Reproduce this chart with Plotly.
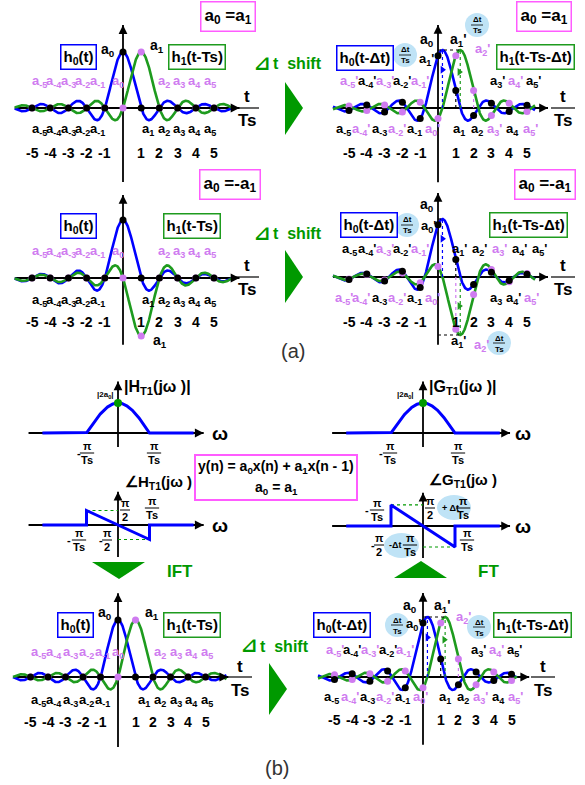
import numpy as np
import plotly.graph_objects as go

W, H = 585, 785
FONT = "Liberation Sans, Arial, sans-serif"
BLUE = "#0000FF"
GREEN = "#1E9B1E"
PINK = "#CF7BF0"
MAG = "#FF5CFF"
LBLUE = "#BFE3F6"
DGREEN = "#009900"
K = "black"

# ---------------- data ----------------
n_samples = [-5, -4, -3, -2, -1, 0, 1, 2, 3, 4, 5]
n_neg = [-5, -4, -3, -2, -1]
n_pos = [1, 2, 3, 4, 5]
num_neg_labels = ["-5", "-4", "-3", "-2", "-1"]
num_pos_labels = ["1", "2", "3", "4", "5"]
dt_over_Ts = 0.25                      # time shift Δt/Ts
h1_sign_case = [1, -1]                 # a0 = a1  /  a0 = -a1
case_text = ["a<sub>0</sub> =a<sub>1</sub>", "a<sub>0</sub> =-a<sub>1</sub>"]
neg_a = ["a<sub>-5</sub>", "a<sub>-4</sub>", "a<sub>-3</sub>", "a<sub>-2</sub>", "a<sub>-1</sub>"]
pos_a = ["a<sub>1</sub>", "a<sub>2</sub>", "a<sub>3</sub>", "a<sub>4</sub>", "a<sub>5</sub>"]
a0_lab = "a<sub>0</sub>"
mag_peak = 1.0                         # |2 a0|
mag_extent = 2.4                       # in units of π/Ts
phase_w = [-2.4, -1, -1, 1, 1, 2.4]    # ω in units of π/Ts
phase_H = [0, 0, 1, -1, 0, 0]          # in units of π/2
phase_G = [0, 0, 1.45, -1.45, 0, 0]    # π/2 + Δt·π/Ts

fig = go.Figure()
ann, shapes, axes, panels = [], [], {}, {}
ROW = 13


def add_panel(key, idx, ox, oy, sx, sy, box):
    x0, y0, x1, y1 = box
    s = "" if idx == 1 else str(idx)
    axes["xaxis" + s] = dict(domain=[x0 / W, x1 / W], range=[(x0 - ox) / sx, (x1 - ox) / sx],
                             visible=False, fixedrange=True, anchor="y" + s)
    axes["yaxis" + s] = dict(domain=[1 - y1 / H, 1 - y0 / H], range=[(oy - y1) / sy, (oy - y0) / sy],
                             visible=False, fixedrange=True, anchor="x" + s)
    panels[key] = ("x" + s, "y" + s)


def txt(x, y, s, size=13, color=K, bold=True, xanchor="center", xref="paper", border=None, pad=1, bw=1.5,
        family=FONT):
    a = dict(x=(x / W if xref == "paper" else x), y=1 - y / H, xref=xref, yref="paper",
             text=f"<b>{s}</b>" if bold else s, showarrow=False,
             font=dict(family=family, size=size, color=color), xanchor=xanchor, yanchor="middle")
    if border:
        a.update(bordercolor=border, borderwidth=bw, borderpad=pad, bgcolor="white")
    ann.append(a)


def pline(x0, y0, x1, y1, color=K, width=1, dash=None):
    shapes.append(dict(type="line", xref="paper", yref="paper", x0=x0 / W, x1=x1 / W,
                       y0=1 - y0 / H, y1=1 - y1 / H, line=dict(color=color, width=width, dash=dash)))


def tri(pts, color=DGREEN):
    p = "M " + " L ".join(f"{x / W},{1 - y / H}" for x, y in pts) + " Z"
    shapes.append(dict(type="path", xref="paper", yref="paper", path=p, fillcolor=color, line=dict(width=0)))


def ellipse(x0, y0, x1, y1, color=LBLUE):
    shapes.append(dict(type="circle", xref="paper", yref="paper", x0=x0 / W, x1=x1 / W,
                       y0=1 - y1 / H, y1=1 - y0 / H, fillcolor=color, line=dict(width=0), layer="below"))


def frac(cx, cy, top, bot, size=11, w=None):
    txt(cx, cy - 7, top, size)
    txt(cx, cy + 7, bot, size)
    w = w or size * 1.3
    pline(cx - w / 2, cy, cx + w / 2, cy, width=1)


def dt_circle(cx, cy, r=12):
    ellipse(cx - r, cy - r, cx + r, cy + r)
    txt(cx, cy - 5, "Δt", 8)
    txt(cx, cy + 6, "Ts", 8)
    pline(cx - 6, cy, cx + 6, cy, width=0.8)


def t_over_Ts(x, yl):
    txt(x, yl - 11, "t", 17)
    txt(x, yl + 13, "Ts", 17)
    pline(x - 12, yl, x + 12, yl, width=1.2)


def shift_text(cx, cy):
    txt(cx - 26, cy, "⊿", 20, color=DGREEN, family="DejaVu Sans")
    txt(cx + 9, cy + 1, "t  shift", 16, color=DGREEN)


def axes_lines(key, xa, ya):
    xr, yr = panels[key]
    fig.add_trace(go.Scatter(x=[xa[0], xa[1]], y=[0, 0], mode="lines", line=dict(color=K, width=1.8),
                             xaxis=xr, yaxis=yr, hoverinfo="skip"))
    fig.add_trace(go.Scatter(x=[0, 0], y=[ya[0], ya[1]], mode="lines", line=dict(color=K, width=1.8),
                             xaxis=xr, yaxis=yr, hoverinfo="skip"))
    for (x, y, ax, ay) in [(xa[1], 0, -9, 0), (0, ya[1], 0, 9)]:
        ann.append(dict(x=x, y=y, xref=xr, yref=yr, ax=ax, ay=ay, text="", showarrow=True,
                        arrowhead=2, arrowsize=1.1, arrowwidth=1.6, arrowcolor=K))


def time_panel(key, shift, sign, trange, xa, ya):
    xr, yr = panels[key]
    axes_lines(key, xa, ya)
    t = np.linspace(trange[0], trange[1], 700)
    fig.add_trace(go.Scatter(x=t, y=np.sinc(t - shift), mode="lines", line=dict(color=BLUE, width=2.6),
                             xaxis=xr, yaxis=yr, hoverinfo="skip"))
    fig.add_trace(go.Scatter(x=t, y=sign * np.sinc(t - 1 - shift), mode="lines",
                             line=dict(color=GREEN, width=2.6), xaxis=xr, yaxis=yr, hoverinfo="skip"))


def dots(key, shift, sign):
    xr, yr = panels[key]
    n = np.array(n_samples, dtype=float)
    fig.add_trace(go.Scatter(x=n, y=sign * np.sinc(n - 1 - shift), mode="markers",
                             marker=dict(color=PINK, size=7), xaxis=xr, yaxis=yr, hoverinfo="skip"))
    fig.add_trace(go.Scatter(x=n, y=np.sinc(n - shift), mode="markers",
                             marker=dict(color=K, size=7), xaxis=xr, yaxis=yr, hoverinfo="skip"))


def dotted(key, xs, ys, color):
    xr, yr = panels[key]
    fig.add_trace(go.Scatter(x=xs, y=ys, mode="lines", line=dict(color=color, width=1.2, dash="dot"),
                             xaxis=xr, yaxis=yr, hoverinfo="skip"))


def marker(key, x, y, color):
    xr, yr = panels[key]
    fig.add_trace(go.Scatter(x=[x], y=[y], mode="markers", marker=dict(color=color, size=7, symbol="triangle-right"),
                             xaxis=xr, yaxis=yr, hoverinfo="skip"))


def label_row(key, labels, colors, tpos, ypx, size=ROW):
    xr, _ = panels[key]
    for lab, c, t in zip(labels, colors, tpos):
        txt(t, ypx, lab, size, color=c, xref=xr)


def numbers(key, ypx, size=14):
    xr, _ = panels[key]
    for n, s in zip(n_neg + n_pos, num_neg_labels + num_pos_labels):
        txt(n, ypx, s, size, xref=xr)


# ---------------- panels ----------------
add_panel("P1", 1, 123, 108, 18.2, 56, (5, 15, 252, 185))
add_panel("P2", 2, 123, 278, 18.2, 58, (5, 185, 252, 350))
add_panel("P3", 3, 438, 108, 17.8, 58, (305, 15, 582, 185))
add_panel("P4", 4, 438, 277, 17.8, 58, (305, 185, 582, 352))
add_panel("P5", 5, 118, 677, 17.5, 57, (5, 585, 250, 752))
add_panel("P6", 6, 423, 677, 17.7, 60, (300, 585, 582, 752))
add_panel("M1", 7, 118, 433, 31.5, 30, (20, 375, 215, 452))
add_panel("M2", 8, 118, 525, 31.5, 14.5, (20, 485, 215, 562))
add_panel("M3", 9, 423, 433, 32, 30, (325, 375, 520, 452))
add_panel("M4", 10, 423, 526, 32, 14.5, (325, 485, 520, 562))

dt = dt_over_Ts
s_a, s_b = h1_sign_case

# (a) top-left / mid-left, (b) bottom-left : unshifted
time_panel("P1", 0, s_a, (-5.95, 6.0), (-5.95, 6.4), (-1.32, 1.48))
dots("P1", 0, s_a)
time_panel("P2", 0, s_b, (-5.95, 6.0), (-5.95, 6.4), (-1.15, 1.43))
dots("P2", 0, s_b)
time_panel("P5", 0, s_a, (-6.0, 6.2), (-6.0, 6.3), (-1.23, 1.47))
dots("P5", 0, s_a)

# shifted panels
for key, sign, tr, xa, ya in [("P3", s_a, (-5.9, 5.45), (-5.9, 6.18), (-1.28, 1.43)),
                              ("P4", s_b, (-5.9, 5.45), (-5.9, 6.18), (-1.17, 1.45)),
                              ("P6", s_a, (-5.93, 5.3), (-5.93, 6.0), (-1.13, 1.4))]:
    time_panel(key, dt, sign, tr, xa, ya)
    dotted(key, [dt, dt], [0, 1], BLUE)
    dotted(key, [1 + dt, 1 + dt], [0, sign], GREEN)
    dotted(key, [0, 1 + dt] if sign > 0 else [0, dt], [1, 1], K)
    if sign < 0:
        dotted(key, [0, 1 + dt], [-1, -1], K)
    dotted(key, [1, 1], [0, float(np.sinc(1 - dt))], K)
    dotted(key, [1, 1] if sign < 0 else [2, 2], [0, sign * float(np.sinc((1 if sign < 0 else 2) - 1 - dt))], PINK)
    marker(key, dt, 0.66, BLUE)
    marker(key, 1 + dt - 0.05, 0.62 * sign if sign > 0 else -0.5, GREEN)
    dots(key, dt, sign)

# frequency panels
for key, ph in [("M1", None), ("M3", None), ("M2", phase_H), ("M4", phase_G)]:
    xr, yr = panels[key]
    if key in ("M1", "M3"):
        axes_lines(key, (-2.84, 2.72), (-0.47, 1.72))
        w = np.linspace(-1, 1, 200)
        wx = np.concatenate([[-mag_extent], w, [mag_extent]])
        wy = np.concatenate([[0], mag_peak * np.cos(np.pi * w / 2), [0]])
        fig.add_trace(go.Scatter(x=wx, y=wy, mode="lines", line=dict(color=BLUE, width=3),
                                 xaxis=xr, yaxis=yr, hoverinfo="skip"))
        fig.add_trace(go.Scatter(x=[0], y=[mag_peak], mode="markers", marker=dict(color=DGREEN, size=8),
                                 xaxis=xr, yaxis=yr, hoverinfo="skip"))
    else:
        axes_lines(key, (-2.84, 2.72), (-2.2, 2.3))
        dotted(key, [phase_w[2], 0], [ph[2], ph[2]], DGREEN)
        dotted(key, [0, phase_w[3]], [ph[3], ph[3]], DGREEN)
        fig.add_trace(go.Scatter(x=phase_w, y=ph, mode="lines", line=dict(color=BLUE, width=3),
                                 xaxis=xr, yaxis=yr, hoverinfo="skip"))

# ---------------- texts: panel P1 ----------------
txt(228, 17, case_text[0], 17, border=MAG, pad=3)
txt(78, 57, "h<sub>0</sub>(t)", 15, border=BLUE, pad=2)
txt(197, 57, "h<sub>1</sub>(t-Ts)", 15, border=GREEN, pad=2)
txt(108, 50, a0_lab, 14)
txt(157, 46, "a<sub>1</sub>", 14)
left_u = [0.8 * n - 0.6 for n in n_neg]
right_u = [0.85 * n + 0.55 for n in n_pos]
label_row("P1", neg_a + [a0_lab], [PINK] * 6, left_u + [-0.3], 82)
label_row("P1", pos_a[1:], [PINK] * 4, right_u[1:], 82)
label_row("P1", neg_a, [K] * 5, left_u, 130)
label_row("P1", pos_a, [K] * 5, right_u, 130)
numbers("P1", 153)
t_over_Ts(247, 108)
shift_text(288, 63)
tri([(285, 82), (285, 135), (303, 108)])

# ---------------- P2 ----------------
txt(230, 185, case_text[1], 17, border=MAG, pad=3)
txt(78, 226, "h<sub>0</sub>(t)", 15, border=BLUE, pad=2)
txt(192, 226, "h<sub>1</sub>(t-Ts)", 15, border=GREEN, pad=2)
label_row("P2", neg_a + [a0_lab], [PINK] * 6, left_u + [-0.3], 252)
label_row("P2", pos_a[1:], [PINK] * 4, right_u[1:], 252)
label_row("P2", neg_a, [K] * 5, left_u, 300)
label_row("P2", pos_a, [K] * 5, right_u, 300)
numbers("P2", 322)
txt(160, 341, "a<sub>1</sub>", 14)
t_over_Ts(247, 277)
shift_text(288, 233)
tri([(285, 250), (285, 303), (303, 277)])

# ---------------- P5 ----------------
txt(75, 625, "h<sub>0</sub>(t)", 15, border=BLUE, pad=2)
txt(192, 625, "h<sub>1</sub>(t-Ts)", 15, border=GREEN, pad=2)
txt(105, 613, a0_lab, 14)
txt(152, 613, "a<sub>1</sub>", 14)
left_b = [0.91 * n for n in n_neg]
right_b = [0.9 * n + 0.6 for n in n_pos]
label_row("P5", neg_a + [a0_lab], [PINK] * 6, left_b + [0.0], 652)
label_row("P5", pos_a[1:], [PINK] * 4, right_b[1:], 652)
label_row("P5", neg_a, [K] * 5, left_b, 700)
label_row("P5", pos_a, [K] * 5, right_b, 700)
numbers("P5", 722)
t_over_Ts(240, 677)
shift_text(275, 645)
tri([(269, 663), (269, 715), (287, 689)])

# ---------------- shifted panels labels ----------------
pr = "'"
neg_p = [s + pr for s in neg_a]
pos_p = [s + pr for s in pos_a]
a0_p = a0_lab + pr

# P3
txt(544, 17, case_text[0], 17, border=MAG, pad=3)
txt(365, 58, "h<sub>0</sub>(t-Δt)", 15, border=BLUE, pad=2)
txt(535, 57, "h<sub>1</sub>(t-Ts-Δt)", 15, border=GREEN, pad=2)
txt(427, 40, a0_lab, 14)
dt_circle(405, 55)
txt(426, 60, "a<sub>1</sub>'", 13)
txt(458, 40, "a<sub>1</sub>'", 14)
dt_circle(477, 25)
txt(482, 50, "a<sub>2</sub>'", 13, color=PINK)
label_row("P3", neg_p, [PINK, K, PINK, K, PINK], [float(n) for n in n_neg], 82)
label_row("P3", pos_p[2:], [K, PINK, K], [n + 0.35 for n in n_pos[2:]], 82)
label_row("P3", [neg_a[0], neg_p[1], neg_a[2], neg_p[3], neg_a[4], a0_p], [K, PINK, K, PINK, K, PINK],
          [n - 0.3 for n in n_neg + [0]], 130)
label_row("P3", [pos_a[0], pos_a[1], pos_p[2], pos_a[3], pos_p[4]], [K, K, PINK, K, PINK],
          [n + 0.2 for n in n_pos], 130)
numbers("P3", 153)
t_over_Ts(563, 108)

# P4
txt(545, 185, case_text[1], 17, border=MAG, pad=3)
txt(369, 225, "h<sub>0</sub>(t-Δt)", 15, border=BLUE, pad=2)
txt(528, 225, "h<sub>1</sub>(t-Ts-Δt)", 15, border=GREEN, pad=2)
txt(427, 205, a0_lab, 14)
dt_circle(407, 225)
txt(428, 227, a0_p, 13)
label_row("P4", [neg_a[0], neg_p[1], neg_p[2], neg_p[3], neg_p[4]], [K, K, PINK, K, PINK],
          [float(n) for n in n_neg], 250)
label_row("P4", pos_p, [K, K, PINK, K, K], [1.12 * n + 0.1 for n in n_pos], 250)
label_row("P4", [neg_p[0], neg_p[1], neg_a[2], neg_p[3], neg_a[4], a0_p], [PINK, PINK, K, PINK, K, PINK],
          [n - 0.3 for n in n_neg + [0]], 298)
label_row("P4", [pos_a[2], pos_p[3], pos_p[4]], [K, K, PINK], [n + 0.25 for n in n_pos[2:]], 298)
numbers("P4", 322)
txt(458, 341, "a<sub>1</sub>'", 13)
txt(481, 345, "a<sub>2</sub>'", 13, color=PINK)
dt_circle(499, 343)
t_over_Ts(563, 277)

# P6
txt(342, 625, "h<sub>0</sub>(t-Δt)", 15, border=BLUE, pad=2)
txt(532, 625, "h<sub>1</sub>(t-Ts-Δt)", 15, border=GREEN, pad=2)
txt(410, 606, a0_lab, 14)
dt_circle(397, 625)
txt(413, 624, a0_p, 13)
txt(442, 606, "a<sub>1</sub>'", 14)
txt(463, 617, "a<sub>2</sub>'", 13, color=PINK)
dt_circle(479, 627)
label_row("P6", neg_p, [PINK, K, PINK, K, PINK], [float(n) for n in n_neg], 650)
label_row("P6", pos_p[2:], [K, PINK, K], [n + 0.15 for n in n_pos[2:]], 650)
label_row("P6", [neg_a[0], neg_p[1], neg_a[2], neg_p[3], neg_a[4], a0_p], [K, PINK, K, PINK, K, PINK],
          [n - 0.15 for n in n_neg + [0]], 697)
label_row("P6", [pos_a[0], pos_a[1], pos_p[2], pos_a[3], pos_p[4]], [K, K, PINK, K, PINK],
          [n + 0.25 for n in n_pos], 697)
numbers("P6", 720)
t_over_Ts(543, 677)

# ---------------- middle texts ----------------
txt(293, 351, "(a)", 20, color="#333333", bold=False)
txt(277, 768, "(b)", 20, color="#333333", bold=False)

# M1
txt(122, 387, "|H<sub>T1</sub>(jω )|", 16, xanchor="left")
txt(105, 395, "|2a<sub>0</sub>|", 8)
txt(220, 433, "ω", 19)
txt(79, 453, "-", 11)
frac(87, 453, "π", "Ts")
frac(154, 453, "π", "Ts")
# M2
txt(123, 482, "∠H<sub>T1</sub>(jω )", 15, xanchor="left")
frac(125, 510, "π", "2", w=10)
frac(152, 508, "π", "Ts")
txt(69, 540, "-", 11)
frac(79, 540, "π", "Ts")
txt(101, 540, "-", 11)
frac(107, 540, "π", "2", w=10)
txt(220, 525, "ω", 19)
# M3
txt(427, 387, "|G<sub>T1</sub>(jω )|", 16, xanchor="left")
txt(405, 395, "|2a<sub>0</sub>|", 8)
txt(523, 433, "ω", 19)
txt(381, 453, "-", 11)
frac(390, 453, "π", "Ts")
frac(458, 453, "π", "Ts")
# M4
txt(427, 480, "∠G<sub>T1</sub>(jω )", 15, xanchor="left")
txt(367, 510, "-", 11)
frac(377, 510, "π", "Ts")
ellipse(437, 495, 471, 520)
frac(430, 508, "π", "2", w=10)
txt(450, 508, "+ Δt", 9)
frac(463, 508, "π", "Ts")
ellipse(384, 533, 419, 558)
txt(373, 545, "-", 11)
frac(379, 545, "π", "2", w=10)
txt(395, 545, "-Δt", 9)
frac(410, 545, "π", "Ts")
frac(467, 540, "π", "Ts")
txt(523, 526, "ω", 19)

# equation box
shapes.append(dict(type="rect", xref="paper", yref="paper", x0=195 / W, x1=357 / W,
                   y0=1 - 500 / H, y1=1 - 455 / H, line=dict(color=MAG, width=2), fillcolor="white",
                   layer="below"))
txt(276, 467, "y(n) = a<sub>0</sub>x(n) + a<sub>1</sub>x(n - 1)", 14)
txt(276, 488, "a<sub>0</sub> = a<sub>1</sub>", 14)

# IFT / FT
tri([(92, 562), (145, 562), (119, 579)])
txt(180, 571, "IFT", 17, color=DGREEN)
tri([(394, 578), (447, 578), (421, 561)])
txt(488, 571, "FT", 17, color=DGREEN)

fig.update_layout(width=W, height=H, margin=dict(l=0, r=0, t=0, b=0), showlegend=False,
                  paper_bgcolor="white", plot_bgcolor="rgba(0,0,0,0)",
                  annotations=ann, shapes=shapes, **axes)
fig.write_html("out.html")
